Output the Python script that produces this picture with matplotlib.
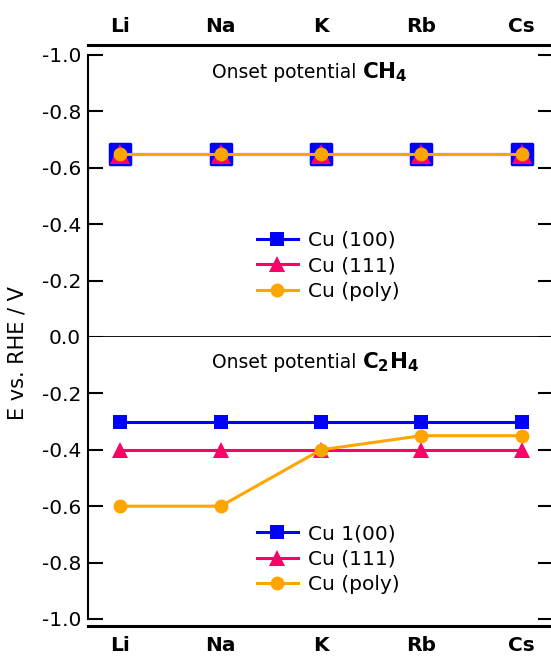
import matplotlib
matplotlib.use("Agg")
import matplotlib.pyplot as plt
from matplotlib.lines import Line2D
from matplotlib.markers import MarkerStyle

plt.rcParams['font.family'] = ['DejaVu Sans']
plt.rcParams['mathtext.fontset'] = 'dejavusans'
plt.rcParams['axes.unicode_minus'] = False

# ---- data ----
cations = ["Li", "Na", "K", "Rb", "Cs"]
ch4_cu100 = [-0.65, -0.65, -0.65, -0.65, -0.65]
ch4_cu111 = [-0.65, -0.65, -0.65, -0.65, -0.65]
ch4_cupoly = [-0.65, -0.65, -0.65, -0.65, -0.65]
c2h4_cu100 = [-0.30, -0.30, -0.30, -0.30, -0.30]
c2h4_cu111 = [-0.40, -0.40, -0.40, -0.40, -0.40]
c2h4_cupoly = [-0.60, -0.60, -0.40, -0.35, -0.35]
labels_top = ["Cu (100)", "Cu (111)", "Cu (poly)"]
labels_bot = ["Cu 1(00)", "Cu (111)", "Cu (poly)"]
yticks_top = [-1.0, -0.8, -0.6, -0.4, -0.2, 0.0]
yticks_bot = [-0.2, -0.4, -0.6, -0.8, -1.0]

BLUE = '#0000FF'
PINK = '#FF0066'
ORANGE = '#FFA500'

fig = plt.figure(figsize=(5.51, 6.59), dpi=100)
W, H = 551, 659
L, R = 88, 553
Ttop, Mid, Bbot = 55, 337, 619
ax1 = fig.add_axes([L / W, 1 - Mid / H, (R - L) / W, (Mid - Ttop) / H])
ax2 = fig.add_axes([L / W, 1 - Bbot / H, (R - L) / W, (Bbot - Mid) / H])

x = list(range(len(cations)))
lw = 2.2

# top panel
ax1.plot(x, ch4_cu100, color=BLUE, lw=lw, marker=MarkerStyle('s', joinstyle='round'),
         ms=14, mew=2.5, mec=BLUE)
ax1.plot(x, ch4_cu111, color=PINK, lw=lw, marker='^', ms=14, mec=PINK, mew=0)
ax1.plot(x, ch4_cupoly, color=ORANGE, lw=lw, marker='o', ms=10, mec=ORANGE, mew=0)

# bottom panel
ax2.plot(x, c2h4_cu100, color=BLUE, lw=lw, marker='s', ms=9.5, mew=0)
ax2.plot(x, c2h4_cu111, color=PINK, lw=lw, marker='^', ms=11, mew=0)
ax2.plot(x, c2h4_cupoly, color=ORANGE, lw=lw, marker='o', ms=10, mew=0)

for ax in (ax1, ax2):
    ax.set_xlim(-0.32, 4.31)
    ax.spines['right'].set_visible(False)
    ax.spines['left'].set_linewidth(1.5)
    ax.tick_params(axis='y', left=True, right=True, direction='in', length=11,
                   width=1.5, labelsize=14.5, pad=5)
    ax.set_xticks(x)

ax1.set_ylim(0, -1.0)
ax1.set_yticks(yticks_top)
ax1.set_yticklabels([f"{v:.1f}" for v in yticks_top])
ax1.spines['top'].set_position(('outward', 7))
ax1.spines['top'].set_linewidth(2.2)
ax1.spines['bottom'].set_linewidth(1.3)
ax1.xaxis.tick_top()
ax1.tick_params(axis='x', top=True, bottom=False, length=0, labelsize=14.5, pad=7)
ax1.set_xticklabels(cations, fontweight='bold')

ax2.set_ylim(-1.0, 0)
ax2.set_yticks(yticks_bot)
ax2.set_yticklabels([f"{v:.1f}" for v in yticks_bot])
ax2.spines['top'].set_visible(False)
ax2.spines['bottom'].set_position(('outward', 5))
ax2.spines['bottom'].set_linewidth(2.2)
ax2.tick_params(axis='x', bottom=True, length=0, labelsize=14.5, pad=7)
ax2.set_xticklabels(cations, fontweight='bold')

# panel titles
def title(ax, y, mtext):
    ax.text(0.589, y, "Onset potential ", transform=ax.transAxes, ha='right',
            va='baseline', fontsize=13.5)
    ax.text(0.589, y, mtext, transform=ax.transAxes, ha='left', va='baseline',
            fontsize=15.5)

title(ax1, 0.918, r"$\mathbf{CH}_\mathbf{4}$")
title(ax2, 0.89, r"$\mathbf{C}_\mathbf{2}\mathbf{H}_\mathbf{4}$")

def handles():
    return [Line2D([], [], color=BLUE, lw=lw, marker='s', ms=10, mew=0),
            Line2D([], [], color=PINK, lw=lw, marker='^', ms=11, mew=0),
            Line2D([], [], color=ORANGE, lw=lw, marker='o', ms=10, mew=0)]

for ax, labs, yy in ((ax1, labels_top, 0.376), (ax2, labels_bot, 0.336)):
    ax.legend(handles(), labs, loc='upper left', bbox_to_anchor=(0.363, yy),
              frameon=False, fontsize=14.5, handlelength=2.05, handletextpad=0.5,
              labelspacing=0.32, borderpad=0, borderaxespad=0)

fig.text(0.032, 0.464, "E vs. RHE / V", rotation=90, ha='center', va='center',
         fontsize=15)

fig.savefig("out.png", dpi=100)
